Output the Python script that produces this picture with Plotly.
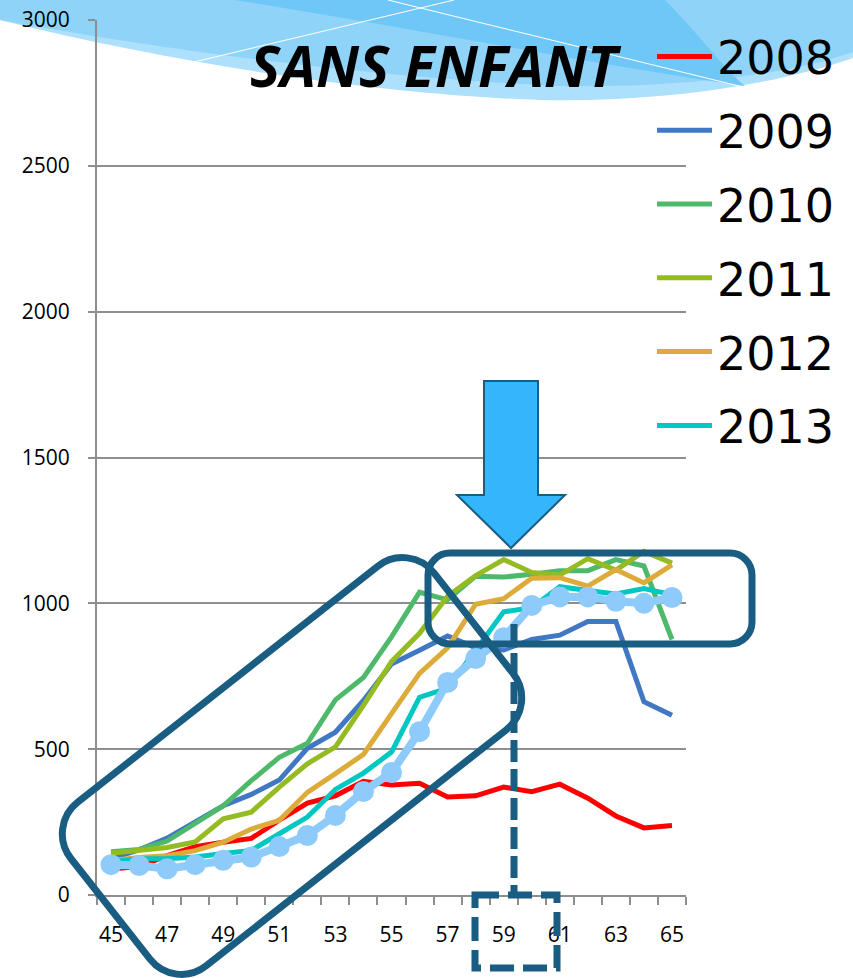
import plotly.graph_objects as go
import math

# ---------------- data ----------------
ages = list(range(45, 66))
years = ["2008", "2009", "2010", "2011", "2012", "2013", "2014"]
v2008 = [89, 98, 135, 166, 181, 194, 257, 315, 340, 390, 377, 383, 336, 340, 370, 354, 380, 332, 271, 230, 238]
v2009 = [125, 155, 195, 252, 306, 345, 394, 503, 558, 667, 792, 839, 888, 848, 840, 876, 891, 938, 938, 663, 616]
v2010 = [148, 156, 185, 245, 306, 392, 472, 520, 669, 746, 885, 1038, 1012, 1093, 1090, 1100, 1112, 1112, 1150, 1128, 876]
v2011 = [143, 152, 163, 182, 261, 284, 370, 450, 508, 650, 800, 897, 1024, 1095, 1150, 1106, 1097, 1153, 1114, 1178, 1138]
v2012 = [118, 129, 135, 152, 181, 226, 256, 352, 416, 482, 622, 760, 847, 997, 1016, 1086, 1088, 1059, 1116, 1070, 1132]
v2013 = [114, 124, 124, 130, 142, 153, 210, 267, 362, 418, 490, 678, 709, 840, 971, 985, 1057, 1044, 1032, 1051, 1030]
v2014 = [104, 101, 90, 104, 119, 130, 166, 204, 273, 355, 420, 560, 729, 811, 882, 993, 1022, 1022, 1007, 1000, 1020]
series = [v2008, v2009, v2010, v2011, v2012, v2013, v2014]
colors = ["#ff0000", "#4178c3", "#4fb96b", "#94bb22", "#dcab3a", "#00c7c2", "#8ecbfa"]
x_ticks = list(range(45, 66, 2))
y_ticks = [0, 500, 1000, 1500, 2000, 2500, 3000]
title_text = "SANS ENFANT"

# ---------------- geometry helpers (pixels -> paper) ----------------
W, H = 853, 978
ML, MR, MT, MB = 97, 167, 20, 83
PW, PH = W - ML - MR, H - MT - MB


def px(x):
    return (x - ML) / PW


def py(y):
    return (H - MB - y) / PH


def P(x, y):
    return f"{px(x):.5f},{py(y):.5f}"


def rounded_path(corners, r):
    n = len(corners)
    segs = []
    for i in range(n):
        cx, cy = corners[i]
        ax, ay = corners[i - 1]
        bx, by = corners[(i + 1) % n]
        da = math.hypot(ax - cx, ay - cy)
        db = math.hypot(bx - cx, by - cy)
        A = (cx + r * (ax - cx) / da, cy + r * (ay - cy) / da)
        B = (cx + r * (bx - cx) / db, cy + r * (by - cy) / db)
        k = 0.552
        c1 = (A[0] + k * (cx - A[0]), A[1] + k * (cy - A[1]))
        c2 = (B[0] + k * (cx - B[0]), B[1] + k * (cy - B[1]))
        segs.append((A, c1, c2, B))
    d = f"M{P(*segs[0][0])}"
    for i, (A, c1, c2, B) in enumerate(segs):
        if i > 0:
            d += f" L{P(*A)}"
        d += f" C{P(*c1)} {P(*c2)} {P(*B)}"
    d += " Z"
    return d


def poly_path(points):
    return "M" + " L".join(P(*p) for p in points) + " Z"


DARK = "#1a5d82"
shapes = []

# header banner (decorative background)
shapes.append(dict(type="path", xref="paper", yref="paper", layer="below", line=dict(width=0),
                   fillcolor="#ade0fb",
                   path=f"M{P(0,0)} L{P(853,0)} L{P(853,58)} C{P(760,90)} {P(640,102)} {P(540,100)} "
                        f"C{P(400,95)} {P(200,70)} {P(0,20)} Z"))
shapes.append(dict(type="path", xref="paper", yref="paper", layer="below", line=dict(width=0),
                   fillcolor="#8fd4f8",
                   path=f"M{P(0,0)} L{P(853,0)} L{P(853,52)} C{P(780,78)} {P(660,88)} {P(560,86)} "
                        f"C{P(420,80)} {P(220,60)} {P(0,20)} Z"))
shapes.append(dict(type="path", xref="paper", yref="paper", layer="below", line=dict(width=0),
                   fillcolor="#6ec7f6",
                   path=f"M{P(235,0)} L{P(665,0)} C{P(700,35)} {P(720,65)} {P(745,86)} "
                        f"C{P(600,65)} {P(420,30)} {P(235,0)} Z"))
shapes.append(dict(type="line", xref="paper", yref="paper", layer="below",
                   x0=px(194), y0=py(62), x1=px(454), y1=py(0), line=dict(color="white", width=1)))
shapes.append(dict(type="line", xref="paper", yref="paper", layer="below",
                   x0=px(388), y0=py(0), x1=px(743), y1=py(87), line=dict(color="white", width=1)))

# rotated rounded rectangle around the rising part
cxr, cyr = 292, 766
ang = math.atan2(-273, 347)
ux, uy = math.cos(ang), math.sin(ang)
vx, vy = -uy, ux
L, Wd = 231, 104
rc = [(cxr + su * L * ux + sv * Wd * vx, cyr + su * L * uy + sv * Wd * vy)
      for su, sv in [(1, -1), (1, 1), (-1, 1), (-1, -1)]]
shapes.append(dict(type="path", xref="paper", yref="paper", layer="above",
                   line=dict(color=DARK, width=7), path=rounded_path(rc, 40)))

# rounded rectangle around the plateau
shapes.append(dict(type="path", xref="paper", yref="paper", layer="above",
                   line=dict(color=DARK, width=7),
                   path=rounded_path([(428, 553), (752, 553), (752, 644), (428, 644)], 22)))

# dashed vertical line and dashed box
shapes.append(dict(type="line", xref="paper", yref="paper", layer="above",
                   x0=px(514), y0=py(624), x1=px(514), y1=py(893),
                   line=dict(color=DARK, width=7, dash="22px,7px")))
shapes.append(dict(type="rect", xref="paper", yref="paper", layer="above",
                   x0=px(475), y0=py(895), x1=px(557), y1=py(968),
                   line=dict(color=DARK, width=7, dash="24px,9px")))

# big arrow
shapes.append(dict(type="path", xref="paper", yref="paper", layer="above",
                   fillcolor="#34b5fc", line=dict(color=DARK, width=2),
                   path=poly_path([(484, 381), (538, 381), (538, 495), (565, 495), (511, 548),
                                   (457, 495), (484, 495)])))

# ---------------- figure ----------------
fig = go.Figure()
for i, (yr, vals, col) in enumerate(zip(years, series, colors)):
    if yr == "2014":
        fig.add_trace(go.Scatter(x=ages, y=vals, name=yr, mode="lines+markers",
                                 line=dict(color=col, width=8),
                                 marker=dict(color=col, size=21), showlegend=False))
    else:
        fig.add_trace(go.Scatter(x=ages, y=vals, name=yr, mode="lines", legendgroup=yr,
                                 line=dict(color=col, width=5)))

GRID = "#8e8e8e"
fig.update_layout(
    width=W, height=H,
    margin=dict(l=ML, r=MR, t=MT, b=MB),
    paper_bgcolor="white", plot_bgcolor="rgba(0,0,0,0)",
    font=dict(family="Open Sans, sans-serif", color="black"),
    shapes=shapes,
    showlegend=True,
    legend=dict(x=px(652), y=py(20), xanchor="left", yanchor="top",
                bgcolor="rgba(0,0,0,0)", font=dict(size=46, family="DejaVu Sans", color="black"),
                tracegroupgap=11, itemwidth=55),
    annotations=[dict(text=title_text, x=px(436), y=py(65), xref="paper", yref="paper",
                      showarrow=False, xanchor="center", yanchor="middle",
                      font=dict(size=57, family="Open Sans", color="black",
                                weight="bold", style="italic"))],
)
fig.update_xaxes(range=[44.5, 65.5], tickmode="array", tickvals=x_ticks,
                 ticktext=[str(v) for v in x_ticks], ticks="", showgrid=False, zeroline=False,
                 showline=True, linecolor=GRID, linewidth=2, automargin=False,
                 tickfont=dict(size=21, color="black"), ticklabelstandoff=20,
                 minor=dict(tickmode="array", tickvals=[44.5 + i for i in range(22)],
                            ticks="outside", ticklen=8, tickwidth=2, tickcolor=GRID, showgrid=False))
fig.update_yaxes(range=[0, 3000], tickmode="array", tickvals=y_ticks, showgrid=True,
                 gridcolor=GRID, gridwidth=2, zeroline=False, showline=True, linecolor=GRID,
                 linewidth=2, ticks="outside", ticklen=7, tickwidth=2, tickcolor=GRID,
                 automargin=False,
                 tickfont=dict(size=21, color="black"), ticklabelstandoff=14)

fig.write_html("out.html", config={"displayModeBar": False},
               post_script="document.body.style.margin='0';")
